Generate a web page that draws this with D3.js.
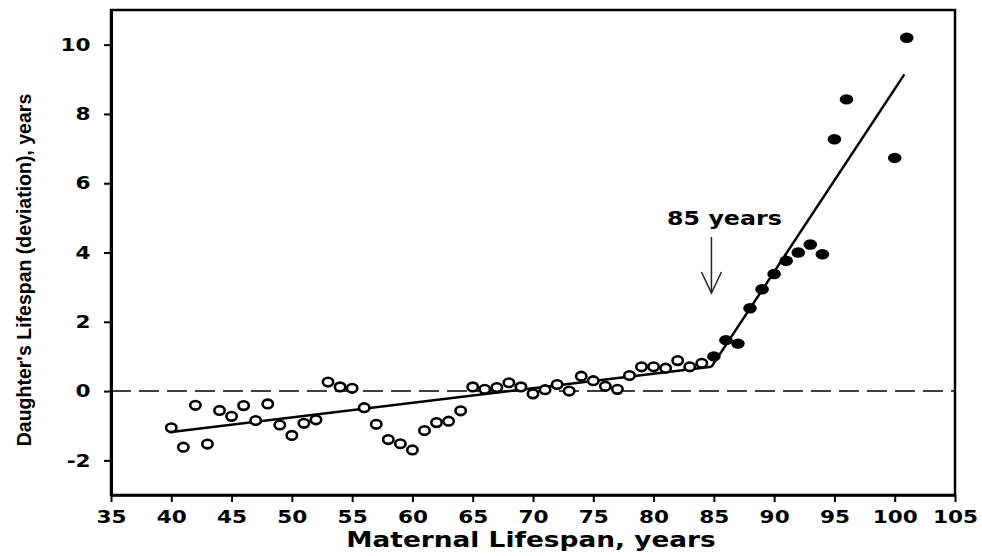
<!DOCTYPE html>
<html>
<head>
<meta charset="utf-8">
<script src="https://cdn.jsdelivr.net/npm/d3@7"></script>
<style>
  html, body { margin: 0; padding: 0; background: #fff; overflow: hidden; }
  svg { display: block; }
</style>
</head>
<body>
<div id="chart"></div>
<script>
// Maternal age at death (years) and daughter's lifespan deviation (years)
const openAges = [40, 41, 42, 43, 44, 45, 46, 47, 48, 49, 50, 51, 52, 53, 54,
  55, 56, 57, 58, 59, 60, 61, 62, 63, 64, 65, 66, 67, 68, 69, 70, 71, 72, 73,
  74, 75, 76, 77, 78, 79, 80, 81, 82, 83, 84];
const openDev = [-1.06, -1.62, -0.41, -1.53, -0.56, -0.73, -0.42, -0.85, -0.37,
  -0.98, -1.28, -0.93, -0.83, 0.26, 0.12, 0.08, -0.48, -0.96, -1.40, -1.52,
  -1.70, -1.14, -0.91, -0.87, -0.57, 0.12, 0.05, 0.10, 0.24, 0.12, -0.08, 0.04,
  0.19, 0.00, 0.43, 0.30, 0.14, 0.05, 0.45, 0.70, 0.70, 0.66, 0.88, 0.70, 0.80];

const filledAges = [85, 86, 87, 88, 89, 90, 91, 92, 93, 94, 95, 96, 100, 101];
const filledDev = [1.00, 1.47, 1.37, 2.39, 2.94, 3.38, 3.76, 4.00, 4.23, 3.95,
  7.27, 8.42, 6.73, 10.20];

// Two fitted segments (start / end points)
const fitLow = [[40, -1.18], [84.8, 0.70]];
const fitHigh = [[84.8, 0.70], [100.8, 9.14]];

const xTicks = [35, 40, 45, 50, 55, 60, 65, 70, 75, 80, 85, 90, 95, 100, 105];
const yTicks = [-2, 0, 2, 4, 6, 8, 10];

const annotationAge = 84.8;
const annotationText = "85 years";

const width = 982, height = 556;
const margin = { top: 10, right: 27, bottom: 61, left: 111 };
const innerWidth = width - margin.left - margin.right;
const innerHeight = height - margin.top - margin.bottom;

const svg = d3.select("#chart").append("svg")
  .attr("width", width)
  .attr("height", height);

const g = svg.append("g")
  .attr("transform", `translate(${margin.left},${margin.top})`);

const x = d3.scaleLinear().domain([35, 105]).range([0, innerWidth]);
const y = d3.scaleLinear().domain([-3, 11]).range([innerHeight, 0]);

const tickFont = "'DejaVu Sans', sans-serif";
const stretch = "scale(1.2,1)"; // the scanned figure is wide-set

// frame (top and right sides)
g.append("rect")
  .attr("x", 0).attr("y", 0)
  .attr("width", innerWidth).attr("height", innerHeight)
  .attr("fill", "none")
  .attr("stroke", "#000")
  .attr("stroke-width", 2.5);

// x axis
const xAxis = g.append("g")
  .attr("transform", `translate(0,${innerHeight})`)
  .call(d3.axisBottom(x).tickValues(xTicks).tickFormat(d => String(d))
    .tickSize(7).tickPadding(8).tickSizeOuter(0));
xAxis.select(".domain").attr("stroke-width", 2.5);
xAxis.selectAll(".tick line").attr("stroke-width", 2);
xAxis.selectAll("text")
  .attr("transform", stretch)
  .style("font-family", tickFont)
  .style("font-weight", "bold")
  .style("font-size", "18px");

// y axis
const yAxis = g.append("g")
  .call(d3.axisLeft(y).tickValues(yTicks).tickFormat(d => String(d))
    .tickSize(7).tickPadding(10).tickSizeOuter(0));
yAxis.select(".domain").attr("stroke-width", 3);
yAxis.selectAll(".tick line").attr("stroke-width", 2);
yAxis.selectAll("text")
  .attr("transform", stretch)
  .style("font-family", tickFont)
  .style("font-weight", "bold")
  .style("font-size", "18px");

// dashed zero line
g.append("line")
  .attr("x1", 0).attr("x2", innerWidth)
  .attr("y1", y(0)).attr("y2", y(0))
  .attr("stroke", "#000")
  .attr("stroke-width", 1.6)
  .attr("stroke-dasharray", "20,8");

// fitted lines
const line = d3.line().x(d => x(d[0])).y(d => y(d[1]));
[fitLow, fitHigh].forEach(seg => {
  g.append("path")
    .datum(seg)
    .attr("d", line)
    .attr("fill", "none")
    .attr("stroke", "#000")
    .attr("stroke-width", 2.5);
});

// open markers
g.selectAll(".open-pt")
  .data(openAges.map((a, i) => [a, openDev[i]]))
  .enter().append("ellipse")
  .attr("class", "open-pt")
  .attr("cx", d => x(d[0]))
  .attr("cy", d => y(d[1]))
  .attr("rx", 5.2)
  .attr("ry", 4.3)
  .attr("fill", "#fff")
  .attr("stroke", "#000")
  .attr("stroke-width", 2.6);

// filled markers
g.selectAll(".filled-pt")
  .data(filledAges.map((a, i) => [a, filledDev[i]]))
  .enter().append("ellipse")
  .attr("class", "filled-pt")
  .attr("cx", d => x(d[0]))
  .attr("cy", d => y(d[1]))
  .attr("rx", 6.8)
  .attr("ry", 5.2)
  .attr("fill", "#000");

// annotation arrow
const ax = x(annotationAge);
const arrowTop = 227, arrowTip = 283;
g.append("line")
  .attr("x1", ax).attr("x2", ax)
  .attr("y1", arrowTop).attr("y2", arrowTip)
  .attr("stroke", "#222")
  .attr("stroke-width", 1.5);
g.append("path")
  .attr("d", `M${ax - 10},${arrowTip - 21} L${ax},${arrowTip} L${ax + 10},${arrowTip - 21}`)
  .attr("fill", "none")
  .attr("stroke", "#222")
  .attr("stroke-width", 1.5);
g.append("text")
  .attr("text-anchor", "middle")
  .attr("transform", `translate(${ax + 13},215) scale(1.25,1)`)
  .style("font-family", tickFont)
  .style("font-weight", "bold")
  .style("font-size", "19px")
  .text(annotationText);

// axis titles
svg.append("text")
  .attr("text-anchor", "middle")
  .attr("transform", `translate(${margin.left + innerWidth / 2 - 2},547) scale(1.2,1)`)
  .style("font-family", tickFont)
  .style("font-weight", "bold")
  .style("font-size", "22px")
  .text("Maternal Lifespan, years");

svg.append("text")
  .attr("text-anchor", "middle")
  .attr("transform", "translate(31,270) rotate(-90)")
  .style("font-family", "'Liberation Sans', Arial, sans-serif")
  .style("font-weight", "bold")
  .style("font-size", "19.5px")
  .text("Daughter's Lifespan (deviation), years");
</script>
</body>
</html>
